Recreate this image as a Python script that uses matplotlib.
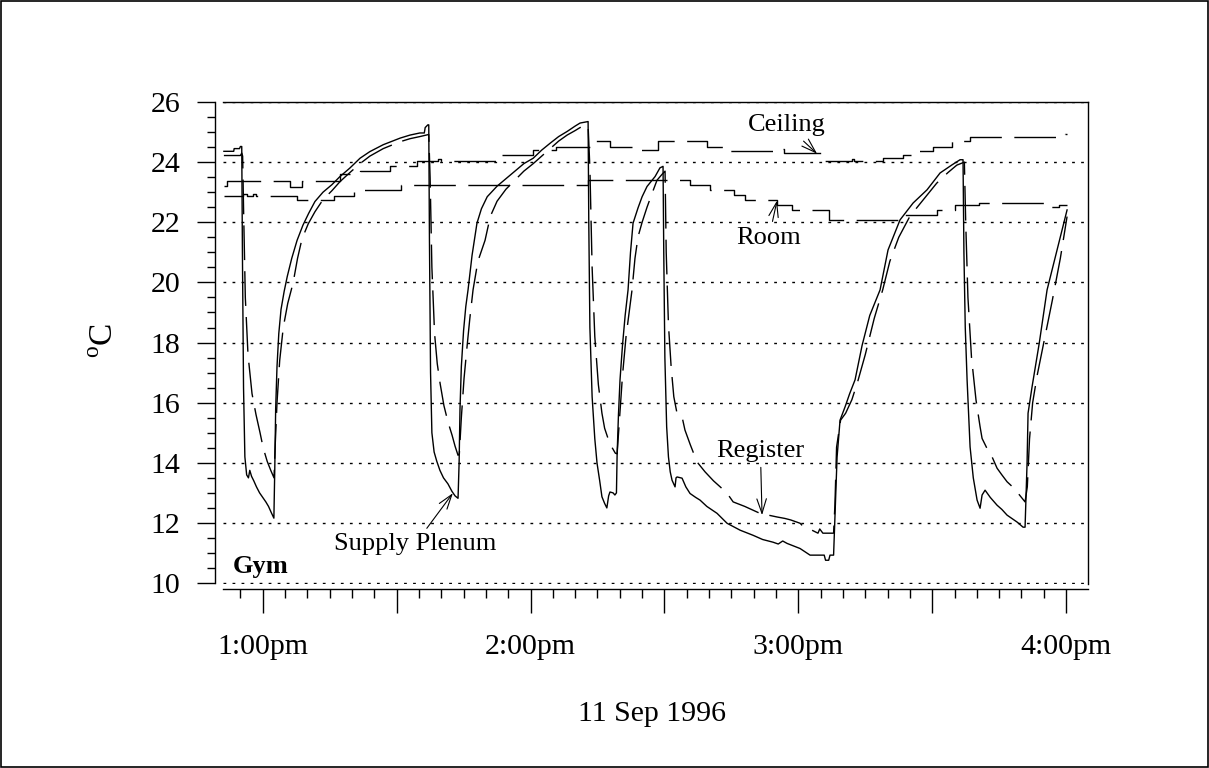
import matplotlib
matplotlib.use("Agg")
import matplotlib.pyplot as plt
import matplotlib.dates as mdates
from matplotlib.ticker import MultipleLocator, FuncFormatter
from matplotlib.patches import Rectangle
import numpy as np
import pandas as pd

plt.rcParams['font.family'] = ['Liberation Serif', 'DejaVu Serif']
plt.rcParams['mathtext.fontset'] = 'custom'
plt.rcParams['mathtext.rm'] = 'Liberation Serif'

DAY = pd.Timestamp('1996-09-11 12:00')

# ---- data: minutes after noon, temperature in deg C ----
supply_min = [51.3, 53.5, 53.6, 54.8, 55.0, 55.3, 55.45, 55.7, 56.0, 56.4, 56.8, 57.1, 57.5, 58.0,
              58.6, 59.3, 60.0, 60.7, 61.3, 61.9, 62.5, 62.7, 62.9, 63.2, 63.6, 64.1, 64.8, 65.5,
              66.5, 67.7, 69.0, 70.3, 71.7, 73.5, 75.5, 77.3, 79.5, 81.8, 84.0, 87.0, 90.8, 93.0,
              95.2, 96.2, 96.4, 97.0, 97.2, 97.35, 97.6, 97.9, 98.4, 99.0, 99.7, 100.5, 101.5,
              102.4, 103.1, 103.76, 104.0, 104.2, 104.5, 105.0, 105.5, 106.0, 106.9, 108.0, 109.0,
              110.3, 112.5, 114.5, 116.5, 118.5, 120.6, 122.5, 124.4, 126.3, 128.2, 130.0, 131.1,
              132.9, 133.05, 133.3, 133.8, 134.4, 134.9, 135.5, 136.0, 136.6, 137.1, 137.5, 137.8,
              138.5, 138.9, 139.25, 139.4, 139.7, 140.05, 140.6, 141.2, 141.85, 142.4, 142.97,
              144.09, 145.0, 146.1, 147.9, 149.0, 149.69, 149.85, 150.1, 150.5, 150.9, 151.3,
              151.71, 152.38, 152.6, 152.83, 153.95, 154.8, 155.74, 157.0, 157.98, 159.5, 161.79,
              164.03, 166.95, 169.86, 172.0, 174.34, 175.5, 176.5, 177.48, 180.39, 182.63, 185.8,
              186.1, 186.8, 187.1, 187.9, 188.23, 188.68, 189.35, 190.47, 191.5, 192.71, 194.28,
              196.0, 198.31, 200.1, 202.79, 205.71, 208.84, 211.76, 214.44, 216.24, 216.9, 217.1,
              217.4, 217.81, 218.48, 219.2, 220.05, 220.72, 221.17, 221.84, 223.0, 224.53, 225.6,
              226.77, 229.01, 230.35, 230.8, 231.25, 231.47, 232.37, 234.0, 235.73, 237.97, 240.21]
supply_temp = [24.36, 24.36, 24.45, 24.45, 24.52, 24.52, 21.0, 16.5, 14.2, 13.6, 13.5, 13.75, 13.55,
               13.4, 13.2, 13.0, 12.85, 12.7, 12.55, 12.35, 12.16, 13.8, 15.8, 17.2, 18.3, 19.1,
               19.7, 20.2, 20.8, 21.4, 21.9, 22.3, 22.69, 23.0, 23.25, 23.52, 23.8, 24.13, 24.35,
               24.58, 24.8, 24.9, 24.97, 24.97, 25.15, 25.24, 25.24, 21.5, 17.0, 15.0, 14.36,
               14.05, 13.75, 13.5, 13.3, 13.05, 12.9, 12.82, 14.0, 15.8, 17.2, 18.4, 19.2, 19.75,
               20.9, 21.97, 22.45, 22.85, 23.2, 23.45, 23.7, 23.95, 24.13, 24.4, 24.63, 24.85,
               25.02, 25.2, 25.3, 25.35, 22.0, 18.5, 16.2, 14.8, 13.99, 13.4, 12.87, 12.65, 12.5,
               12.9, 13.03, 13.0, 12.93, 13.0, 14.26, 15.6, 16.76, 17.9, 18.9, 19.75, 21.0, 21.97,
               22.48, 22.85, 23.19, 23.52, 23.81, 23.86, 21.0, 17.5, 15.2, 14.2, 13.7, 13.42,
               13.2, 13.5, 13.53, 13.49, 13.2, 12.98, 12.85, 12.76, 12.55, 12.32, 11.99, 11.76,
               11.59, 11.45, 11.36, 11.3, 11.4, 11.32, 11.15, 10.93, 10.93, 10.76, 10.76, 10.93,
               10.93, 12.3, 14.19, 15.42, 15.86, 16.3, 16.76, 17.9, 18.9, 19.75, 21.08, 22.08,
               22.64, 23.08, 23.64, 23.91, 24.08, 24.08, 21.0, 18.5, 16.76, 14.53, 13.5, 12.76,
               12.49, 12.93, 13.09, 12.85, 12.59, 12.45, 12.26, 12.03, 11.86, 11.86, 14.0, 15.65,
               16.53, 18.0, 19.75, 21.08, 22.41]

register_min = [51.3, 55.0, 55.3, 55.5, 55.7, 56.1, 56.7, 57.6, 58.5, 59.4, 60.1, 61.0, 61.8, 62.53,
                62.8, 63.2, 63.8, 64.6, 65.6, 66.8, 67.8, 68.8, 70.2, 71.7, 73.5, 75.5, 77.3, 79.5,
                81.8, 84.0, 87.0, 90.8, 93.0, 95.2, 97.2, 97.5, 97.9, 98.5, 99.1, 99.73, 100.6,
                101.52, 102.42, 103.1, 103.76, 104.05, 104.5, 105.1, 105.8, 106.4, 107.12, 108.2,
                109.81, 111.0, 112.5, 114.5, 116.5, 118.5, 120.6, 122.5, 124.4, 126.3, 128.2, 130.0,
                131.1, 132.9, 133.3, 133.8, 134.4, 135.2, 136.0, 136.6, 137.5, 138.3, 139.0, 139.4,
                139.9, 140.6, 141.4, 142.1, 142.74, 143.4, 144.09, 145.0, 146.1, 147.2, 148.34,
                149.5, 150.14, 150.4, 150.9, 151.5, 152.1, 152.83, 153.95, 154.6, 155.8, 157.3,
                159.1, 161.0, 162.5, 164.03, 165.4, 168.0, 171.4, 175.2, 177.0, 178.3, 180.39,
                180.8, 182.5, 184.4, 184.8, 185.5, 187.9, 188.2, 188.57, 189.47, 190.6, 192.0,
                193.3, 195.0, 197.0, 198.9, 200.5, 202.5, 205.0, 208.0, 211.0, 213.5, 215.5, 217.2,
                217.5, 218.0, 218.8, 219.8, 220.72, 221.17, 222.2, 223.4, 224.53, 225.6, 226.77,
                228.0, 229.01, 230.0, 230.8, 231.3, 231.8, 232.5, 233.5, 235.0, 236.9, 238.7, 240.21]
register_temp = [24.22, 24.22, 24.3, 24.2, 22.5, 19.5, 17.6, 16.3, 15.6, 15.0, 14.5, 14.05, 13.75,
                 13.5, 14.6, 16.0, 17.4, 18.5, 19.3, 19.98, 20.8, 21.45, 21.95, 22.35, 22.75,
                 23.05, 23.35, 23.65, 23.95, 24.2, 24.45, 24.68, 24.78, 24.85, 24.92, 23.5, 20.5,
                 18.3, 17.3, 16.65, 15.9, 15.35, 14.92, 14.55, 14.25, 14.3, 15.5, 16.8, 17.9, 18.8,
                 19.75, 20.7, 21.4, 22.2, 22.7, 23.1, 23.4, 23.7, 23.95, 24.2, 24.45, 24.7, 24.9,
                 25.05, 25.15, 25.22, 23.8, 20.5, 18.2, 16.6, 15.65, 15.15, 14.75, 14.5, 14.32,
                 14.3, 15.4, 16.9, 18.2, 19.0, 19.75, 20.8, 21.52, 22.0, 22.5, 22.95, 23.4, 23.6,
                 23.7, 21.0, 18.6, 17.2, 16.2, 15.64, 15.53, 15.09, 14.6, 14.03, 13.7, 13.4, 13.2,
                 12.99, 12.7, 12.55, 12.32, 12.2, 12.15, 12.1, 11.99, 11.93, 11.8, 11.66, 11.8,
                 11.66, 11.66, 12.6, 14.52, 15.42, 15.65, 16.1, 16.7, 17.6, 18.8, 19.75, 20.7,
                 21.5, 22.2, 22.75, 23.3, 23.65, 23.9, 24.0, 22.0, 19.5, 17.5, 16.1, 15.2, 14.81,
                 14.5, 14.2, 13.82, 13.6, 13.37, 13.2, 13.03, 12.85, 12.7, 13.2, 14.8, 16.0, 16.9,
                 18.0, 19.4, 20.8, 22.19]

# step series: each value holds until the next time
ceiling_min = [51.3, 52.1, 66.1, 68.8, 77.3, 81.8, 88.5, 94.6, 99.3, 100.0, 113.2, 120.6, 125.8,
               133.4, 137.8, 144.5, 148.5, 159.5, 164.0, 176.4, 176.8, 185.5, 192.0, 192.4, 199.0,
               203.5, 206.6, 210.2, 214.4, 218.5, 239.8, 240.2]
ceiling_temp = [23.19, 23.36, 23.18, 23.36, 23.6, 23.71, 23.88, 24.05, 24.1, 24.05, 24.24, 24.4,
                24.52, 24.69, 24.52, 24.41, 24.69, 24.52, 24.36, 24.45, 24.3, 24.04, 24.1, 24.04,
                24.13, 24.25, 24.36, 24.52, 24.69, 24.85, 24.92, 24.92]

room_min = [51.3, 55.6, 56.5, 57.8, 58.5, 67.6, 75.9, 80.5, 90.9, 132.8, 155.8, 160.3, 165.5,
            168.1, 175.3, 178.5, 186.8, 202.9, 211.0, 215.0, 220.5, 236.5, 238.5, 240.2]
room_temp = [22.89, 22.95, 22.89, 22.95, 22.89, 22.75, 22.89, 23.08, 23.24, 23.41, 23.25, 23.08,
             22.91, 22.75, 22.58, 22.41, 22.08, 22.25, 22.41, 22.58, 22.65, 22.5, 22.58, 22.58]

hour_labels = {13: '1:00pm', 14: '2:00pm', 15: '3:00pm', 16: '4:00pm'}


def to_time(minutes):
    return DAY + pd.to_timedelta(np.asarray(minutes, dtype=float), unit='m')


def at(minutes):
    return mdates.date2num(DAY + pd.Timedelta(minutes=minutes))


fig = plt.figure(figsize=(12.09, 7.68), dpi=100)
ax = fig.add_axes([223 / 1209, 1 - 584 / 768, 865 / 1209, 482 / 768])

ax.plot(to_time(supply_min), supply_temp, color='black', lw=1.0)
ax.plot(to_time(register_min), register_temp, color='black', lw=1.0, dashes=(25, 8))
ax.step(to_time(ceiling_min), ceiling_temp, where='post', color='black', lw=1.0, dashes=(30, 9))
ax.step(to_time(room_min), room_temp, where='post', color='black', lw=1.0, dashes=(30, 9))

ax.set_xlim(DAY + pd.Timedelta(minutes=51.1), DAY + pd.Timedelta(minutes=244.9))
ax.set_ylim(9.97, 26)

ax.yaxis.set_major_locator(MultipleLocator(2))
ax.yaxis.set_minor_locator(MultipleLocator(0.5))
ax.xaxis.set_major_locator(mdates.MinuteLocator(byminute=[0, 30]))
ax.xaxis.set_minor_locator(mdates.MinuteLocator(byminute=range(0, 60, 5)))


def time_label(x, pos):
    minutes = int(round(x * 1440)) % 1440
    if minutes % 60:
        return ''
    return hour_labels.get(minutes // 60, '')


ax.xaxis.set_major_formatter(FuncFormatter(time_label))

ax.grid(axis='y', which='major', color='black', lw=1.0, linestyle=(0, (2, 4.5)))

for side in ('top', 'right', 'left', 'bottom'):
    ax.spines[side].set_linewidth(1.0)
ax.spines['left'].set_position(('outward', 5.8))
ax.spines['left'].set_bounds(10, 26)
ax.spines['bottom'].set_position(('outward', 3.6))

ax.tick_params(axis='y', which='major', direction='out', length=13, width=1.0, pad=12, labelsize=21.5)
ax.tick_params(axis='y', which='minor', direction='out', length=5.8, width=1.0)
ax.tick_params(axis='x', which='major', direction='out', length=17.3, width=1.0, pad=15, labelsize=21.5)
ax.tick_params(axis='x', which='minor', direction='out', length=6.5, width=1.0)

ax.text(0.0116, 0.0235, 'Gym', transform=ax.transAxes, fontsize=19, fontweight='bold',
        ha='left', va='baseline')

arrow = dict(arrowstyle='->,head_length=0.55,head_width=0.18', color='black', lw=0.8,
             shrinkA=2, shrinkB=0)
ax.annotate('Ceiling', xy=(at(184.2), 24.28), xytext=(at(177.4), 25.02), fontsize=19,
            ha='center', va='baseline', arrowprops=arrow)
ax.annotate('Room', xy=(at(175.23), 22.72), xytext=(at(173.4), 21.28), fontsize=19,
            ha='center', va='baseline', arrowprops=arrow)
ax.annotate('Register', xy=(at(171.87), 12.26), xytext=(at(171.5), 14.20), fontsize=19,
            ha='center', va='baseline', arrowprops=arrow)
ax.annotate('Supply Plenum', xy=(at(102.6), 12.99), xytext=(at(94.1), 11.09), fontsize=19,
            ha='center', va='baseline', arrowprops=arrow)

fig.text(652 / 1209, 1 - 721 / 768, '11 Sep 1996', fontsize=21.5, ha='center', va='baseline')
fig.text(105 / 1209, 1 - 340 / 768, r'$^{\mathrm{o}}$C', fontsize=24, rotation=90,
         ha='center', va='center')

fig.add_artist(Rectangle((0.0006, 0.0009), 0.9988, 0.9982, transform=fig.transFigure,
                         fill=False, lw=1.2, ec='black'))

fig.savefig('out.png', dpi=100)
